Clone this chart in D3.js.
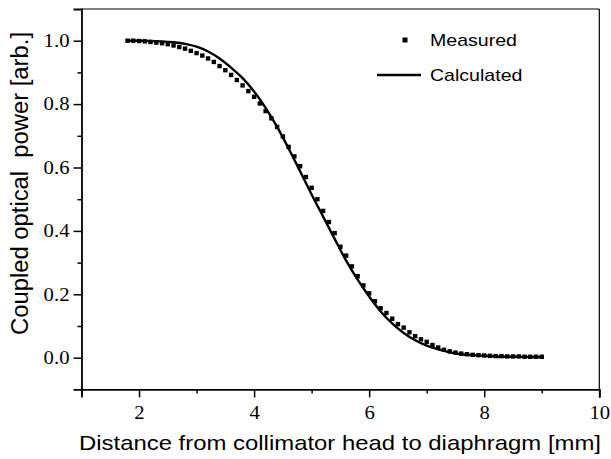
<!DOCTYPE html>
<html><head><meta charset="utf-8">
<script src="https://cdn.jsdelivr.net/npm/d3@7/dist/d3.min.js"></script>
<style>
html,body{margin:0;padding:0;background:#fff;}
svg{display:block;}
</style></head>
<body>
<svg id="chart" width="611" height="459"></svg>
<script>
// ---- data ----
const measuredX = [1.8,1.9,2.0,2.1,2.2,2.3,2.4,2.5,2.6,2.7,2.8,2.9,3.0,3.1,3.2,3.3,3.4,3.5,3.6,3.7,3.8,3.9,
  4.0,4.1,4.2,4.3,4.4,4.5,4.6,4.7,4.8,4.9,5.0,5.1,5.2,5.3,5.4,5.5,5.6,5.7,5.8,5.9,
  6.0,6.1,6.2,6.3,6.4,6.5,6.6,6.7,6.8,6.9,7.0,7.1,7.2,7.3,7.4,7.5,7.6,7.7,7.8,7.9,
  8.0,8.1,8.2,8.3,8.4,8.5,8.6,8.7,8.8,8.9,9.0];
const measuredY = [1.000,1.000,0.999,0.998,0.996,0.994,0.992,0.989,0.985,0.980,0.975,0.968,0.961,0.953,0.944,0.933,0.920,0.907,0.892,0.876,0.859,0.841,
  0.823,0.802,0.778,0.755,0.728,0.698,0.665,0.635,0.604,0.570,0.536,0.500,0.463,0.428,0.393,0.350,0.322,0.288,0.257,0.228,
  0.203,0.178,0.156,0.141,0.123,0.106,0.095,0.080,0.068,0.058,0.050,0.040,0.032,0.025,0.020,0.016,0.013,0.011,0.009,0.008,
  0.007,0.006,0.005,0.005,0.004,0.004,0.004,0.003,0.003,0.003,0.003];
const calcX = [1.8,2.0,2.2,2.4,2.6,2.8,3.0,3.2,3.4,3.6,3.8,4.0,4.2,4.4,4.6,4.8,5.0,5.2,5.4,5.6,5.8,
  6.0,6.2,6.4,6.6,6.8,7.0,7.2,7.4,7.6,7.8,8.0,8.2,8.4,8.6,8.8,9.0];
const calcY = [1.000,1.000,0.999,0.998,0.995,0.990,0.981,0.966,0.944,0.915,0.882,0.840,0.788,0.728,0.660,0.588,0.515,0.445,0.375,0.306,0.246,
  0.193,0.146,0.108,0.078,0.055,0.038,0.026,0.017,0.011,0.008,0.006,0.004,0.003,0.003,0.002,0.002];
const xMajorTicks = [2,4,6,8,10];
const xMinorTicks = [1,3,5,7,9];
const yMajorTicks = [0.0,0.2,0.4,0.6,0.8,1.0];
const yMinorTicks = [0.1,0.3,0.5,0.7,0.9];
const seriesNames = ["Measured","Calculated"];
const xTitle = "Distance from collimator head to diaphragm [mm]";
const yTitle = "Coupled optical  power [arb.]";

// ---- layout ----
const svg = d3.select("#chart");
const L = 81.5, R = 599.3, T = 9, B = 389.4;
const x = d3.scaleLinear().domain([1,10]).range([L,R]);
const y = d3.scaleLinear().domain([-0.1,1.1]).range([B,T]);
const stretch = 1.15;
const serif = "'Liberation Serif','Times New Roman',serif";
const sans = "'Liberation Sans',Arial,Helvetica,sans-serif";

function stretchText(sel, f){
  sel.each(function(){ const w = this.getComputedTextLength();
    d3.select(this).attr("textLength", w*f).attr("lengthAdjust","spacingAndGlyphs"); });
}

// frame top/right
svg.append("line").attr("x1",L).attr("x2",R).attr("y1",T).attr("y2",T).attr("stroke","#000").attr("stroke-width",1.2);
svg.append("line").attr("x1",R).attr("x2",R).attr("y1",T).attr("y2",B).attr("stroke","#000").attr("stroke-width",1.2);

// x axis
const gx = svg.append("g").attr("transform",`translate(0,${B})`)
  .call(d3.axisBottom(x).tickValues(xMajorTicks).tickSize(8).tickPadding(9).tickFormat(d3.format("d")));
svg.append("g").attr("transform",`translate(0,${B})`)
  .call(d3.axisBottom(x).tickValues(xMinorTicks).tickSize(4).tickFormat(""))
  .call(g=>g.select(".domain").remove());
// y axis
const gy = svg.append("g").attr("transform",`translate(${L},0)`)
  .call(d3.axisLeft(y).tickValues(yMajorTicks).tickSize(8).tickPadding(4).tickFormat(d3.format(".1f")));
svg.append("g").attr("transform",`translate(${L},0)`)
  .call(d3.axisLeft(y).tickValues(yMinorTicks).tickSize(4).tickFormat(""))
  .call(g=>g.select(".domain").remove());

svg.selectAll(".domain").attr("stroke","#000").attr("stroke-width",1.8);
svg.selectAll(".tick line").attr("stroke","#000").attr("stroke-width",1.5);
svg.selectAll(".tick text").attr("font-family",serif).attr("font-size",18).attr("fill","#000");
stretchText(gx.selectAll(".tick text"), stretch);
stretchText(gy.selectAll(".tick text"), stretch);

// calculated line
const line = d3.line().x((d,i)=>x(calcX[i])).y(d=>y(d)).curve(d3.curveMonotoneX);
svg.append("path").datum(calcY).attr("d",line).attr("fill","none").attr("stroke","#000").attr("stroke-width",2.4);

// measured points
const ms = 4.4;
svg.append("g").selectAll("rect").data(measuredY).join("rect")
  .attr("x",(d,i)=>x(measuredX[i])-ms/2).attr("y",d=>y(d)-ms/2)
  .attr("width",ms).attr("height",ms).attr("fill","#000");

// legend
svg.append("rect").attr("x",405-2.5).attr("y",40-2.5).attr("width",5).attr("height",5).attr("fill","#000");
const lt1 = svg.append("text").attr("x",430).attr("y",46).text(seriesNames[0]);
svg.append("line").attr("x1",377).attr("x2",421).attr("y1",75).attr("y2",75).attr("stroke","#000").attr("stroke-width",2.4);
const lt2 = svg.append("text").attr("x",430).attr("y",81).text(seriesNames[1]);
[lt1,lt2].forEach(t=>t.attr("font-family",sans).attr("font-size",17).attr("fill","#000"));
stretchText(lt1, stretch); stretchText(lt2, stretch);

// axis titles
const xt = svg.append("text").attr("x",79).attr("y",450).attr("font-family",sans).attr("font-size",21)
  .attr("fill","#000").text(xTitle);
xt.attr("textLength",522).attr("lengthAdjust","spacingAndGlyphs");
svg.append("text").attr("transform",`translate(28,${(32+335)/2}) scale(${stretch},1) rotate(-90)`)
  .attr("text-anchor","middle").attr("font-family",sans).attr("font-size",21).attr("fill","#000")
  .style("white-space","pre").attr("textLength",303).attr("lengthAdjust","spacingAndGlyphs").text(yTitle);
</script>
</body></html>
